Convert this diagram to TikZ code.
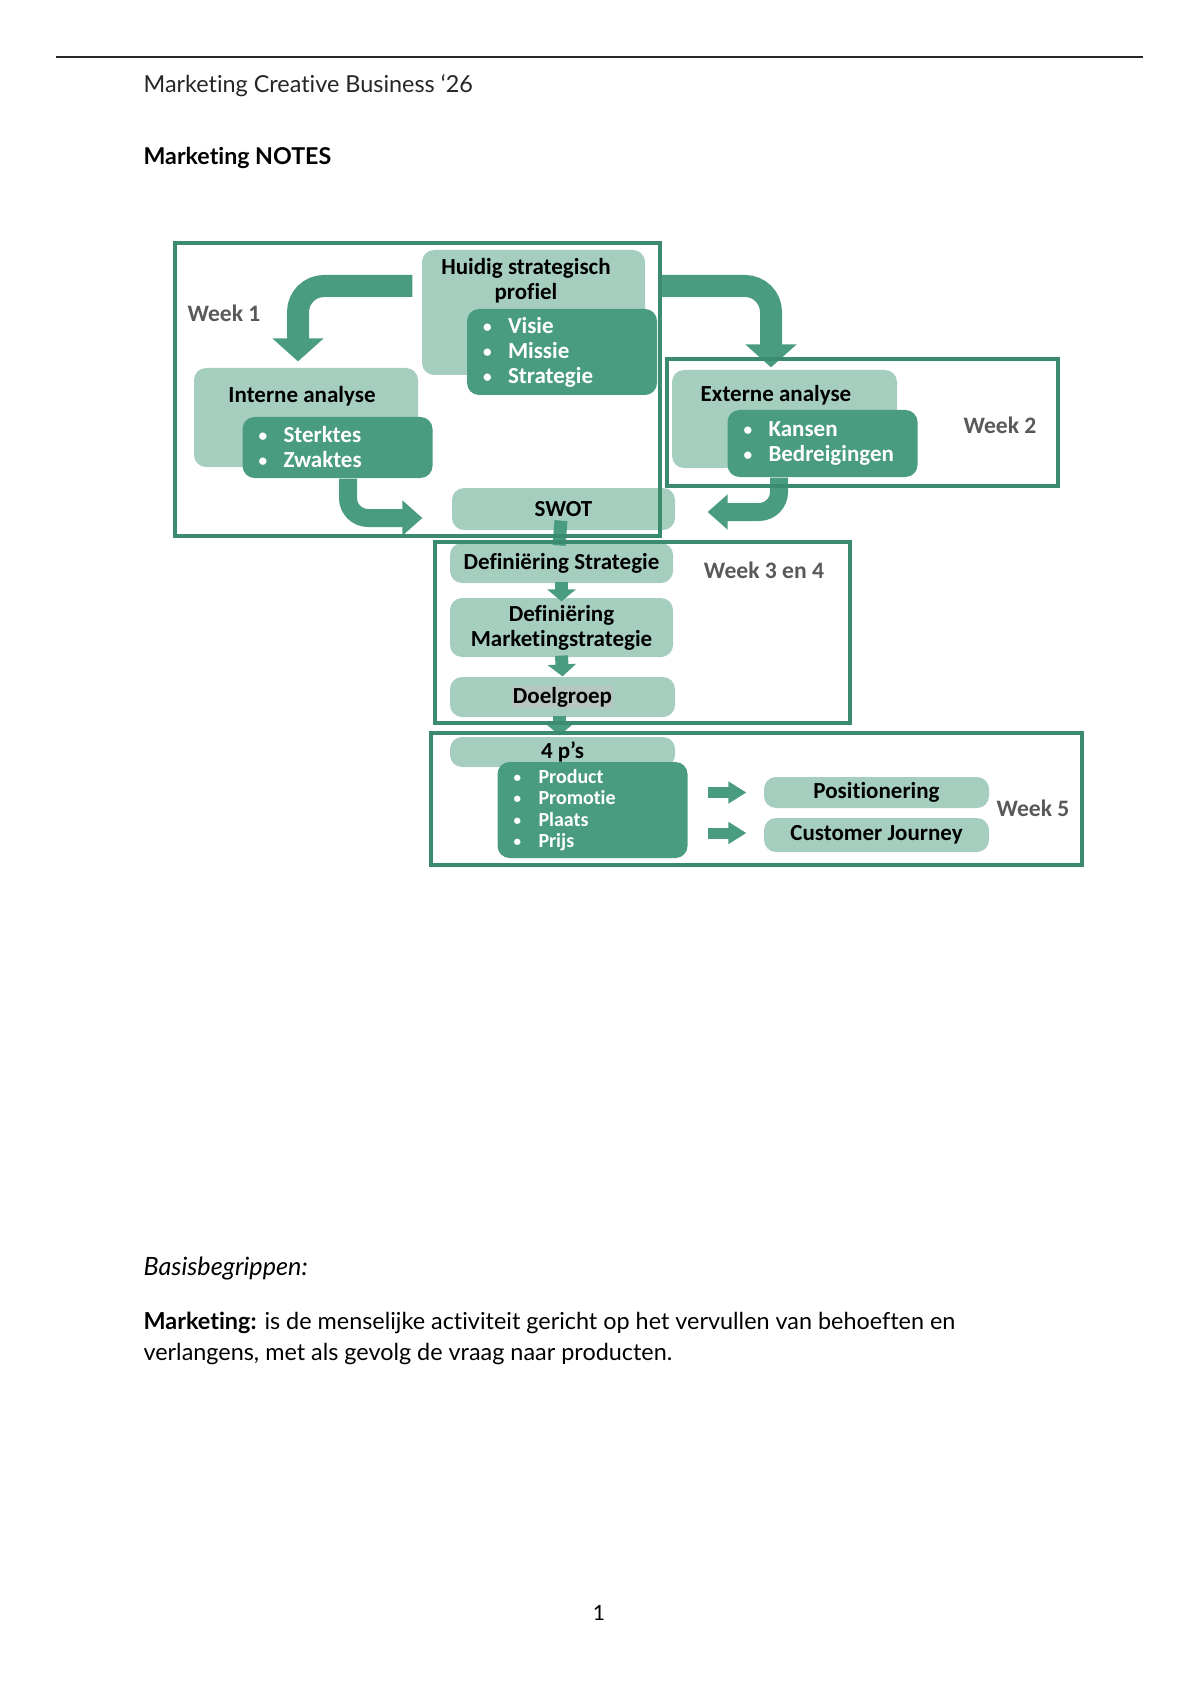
\documentclass[tikz,border=0pt]{standalone}
\usepackage{fontspec}
\setmainfont{Lato}[Ligatures=NoCommon]
\newfontfamily\schemafont{Carlito}[Ligatures=NoCommon]
\usepackage{xcolor}
\definecolor{lichtgroen}{HTML}{A6CEBF}
\definecolor{donkergroen}{HTML}{4A9C80}
\definecolor{randgroen}{HTML}{3B8B6F}
\definecolor{weekgrijs}{HTML}{595959}
\definecolor{markeer}{HTML}{B7C6C0}
\usetikzlibrary{arrows.meta,calc}
\newcommand{\opsom}{\makebox[12.5pt][l]{\raisebox{0.5pt}{\scalebox{0.75}{\textbullet}}}}

\begin{document}
\begin{tikzpicture}[x=0.5pt,y=-0.5pt,semithick]
    \tikzstyle{licht}=[fill=lichtgroen,rounded corners=6pt,inner sep=0pt,text=black,
                       font=\schemafont\bfseries\fontsize{11.5}{12.5}\selectfont,align=center]
    \tikzstyle{donker}=[fill=donkergroen,rounded corners=6pt,inner xsep=8pt,inner ysep=0pt,
                        text=white,text width=79pt,align=left,
                        font=\schemafont\bfseries\fontsize{11.5}{12.5}\selectfont]
    \tikzstyle{titel}=[inner sep=0pt,font=\schemafont\bfseries\fontsize{11.5}{12.5}\selectfont,align=center]
    \tikzstyle{week}=[draw=randgroen,line width=2pt]
    \tikzstyle{weeklabel}=[inner sep=0pt,text=weekgrijs,font=\schemafont\bfseries\fontsize{11.8}{13}\selectfont]
    \tikzstyle{pijl}=[draw=donkergroen,line width=11pt,rounded corners=13pt,
                      -{Triangle[length=11.5pt,width=25pt]}]
    \tikzstyle{pijlklein}=[draw=donkergroen,line width=9pt,rounded corners=10pt,
                           -{Triangle[length=10pt,width=17pt]}]
    \tikzstyle{schakel}=[draw=donkergroen,line width=6.5pt,-{Triangle[length=6pt,width=14pt]}]
    \tikzstyle{blokpijl}=[draw=donkergroen,line width=5.5pt,-{Triangle[length=9pt,width=10.5pt]}]
    \useasboundingbox (0,0) rectangle (1200,1700);

    % kop van de pagina
    \draw[line width=1pt,black!85] (56,57) -- (1143,57);
    \node[anchor=west,inner sep=0pt,font=\fontsize{11.7}{14}\selectfont,text=black!85] (kop) at (143,86) {Marketing Creative Business ‘26};
    \node[anchor=west,inner sep=0pt,font=\bfseries\fontsize{11.6}{14}\selectfont] (notes) at (143,158) {Marketing NOTES};

    % week 1
    \node[licht,minimum width=111.5pt,minimum height=62.5pt] (huidig) at (533.5,312.5) {};
    \node[titel] (huidigtitel) at (526,280.5) {Huidig strategisch\\profiel};
    \node[donker,minimum height=43pt] (visie) at (562,352) {\opsom Visie\\\opsom Missie\\\opsom Strategie};
    \node[licht,minimum width=112pt,minimum height=49.5pt] (intern) at (306,417.5) {};
    \node[titel] (interntitel) at (302,396) {Interne analyse};
    \node[donker,minimum height=30.5pt] (sterk) at (337.5,447.5) {\opsom Sterktes\\\opsom Zwaktes};
    \node[licht,minimum width=111.5pt,minimum height=21pt] (swot) at (563.5,509) {SWOT};

    % week 2
    \node[licht,minimum width=112.5pt,minimum height=49pt] (extern) at (784.5,419) {};
    \node[titel] (externtitel) at (776,395) {Externe analyse};
    \node[donker,minimum height=33.5pt] (kansen) at (822.5,443.5) {\opsom Kansen\\\opsom Bedreigingen};

    % week 3 en 4
    \node[licht,minimum width=111.5pt,minimum height=20pt] (defstrat) at (561.5,563) {Definiëring Strategie};
    \node[licht,minimum width=111.5pt,minimum height=29.5pt] (defmkt) at (561.5,627.5) {Definiëring\\Marketingstrategie};
    \node[licht,minimum width=112.5pt,minimum height=20pt] (doelgroep) at (562.5,697) {{\setlength\fboxsep{0.5pt}\colorbox{markeer}{Doelgroep}}};

    % week 5
    \node[licht,minimum width=112.5pt,minimum height=15pt] (vierp) at (562.5,752) {4 p’s};
    \node[donker,minimum height=48pt,font=\schemafont\bfseries\fontsize{10}{10.7}\selectfont] (product) at (592.5,810)
        {\opsom Product\\\opsom Promotie\\\opsom Plaats\\\opsom Prijs};
    \node[licht,minimum width=112.5pt,minimum height=15.5pt] (positie) at (876.5,792.5) {Positionering};
    \node[licht,minimum width=112.5pt,minimum height=17pt] (journey) at (876.5,835) {Customer Journey};

    % pijlen
    \draw[pijl] ($(huidig.west)+(-9,-26.5)$) -| ($(intern.north)+(-8,-6)$);
    \draw[pijl] ($(huidig.east)+(15,-26.5)$) -| ($(extern.north)+(-13.5,-2)$);
    \draw[pijlklein] ($(sterk.south)+(10.5,0)$) |- ($(swot.west)+(-29,9)$);
    \draw[pijlklein] ($(kansen.south)+(-43.5,0)$) |- ($(swot.east)+(32,3)$);
    \draw[draw=donkergroen,line width=6.5pt] ($(swot.south)+(-2.5,-10)$) -- ($(defstrat.north)+(-2.5,3)$);
    \draw[schakel] ($(defstrat.south)+(0,-2)$) -- ($(defmkt.north)+(0,4)$);
    \draw[schakel] ($(defmkt.south)+(0,-2)$) -- (doelgroep.north);
    \draw[schakel] ($(doelgroep.south)+(-3,-2)$) -- ($(vierp.north)+(-3,-1)$);
    \draw[blokpijl] ($(product.east |- positie.west)+(20,0)$) -- ($(positie.west)+(-17,0)$);
    \draw[blokpijl] ($(product.east |- journey.west)+(20,-2)$) -- ($(journey.west)+(-17,-2)$);

    % weekkaders
    \draw[week] (175,243) rectangle (660,536);
    \draw[week] (667,359) rectangle (1058,486);
    \draw[week] (435,542) rectangle (850,723);
    \draw[week] (431,733) rectangle (1082,865);
    \node[weeklabel] (week1) at (224,313) {Week 1};
    \node[weeklabel] (week2) at (1000,425) {Week 2};
    \node[weeklabel] (week34) at (764,570) {Week 3 en 4};
    \node[weeklabel] (week5) at (1033,808) {Week 5};

    % tekst onder het schema
    \node[anchor=west,inner sep=0pt,font=\itshape\fontsize{12.6}{14}\selectfont] (basis) at (143,1268) {Basisbegrippen:};
    \node[anchor=north west,inner sep=0pt,align=left,font=\fontsize{11.7}{15.5}\selectfont] (definitie) at (143,1311)
        {\textbf{Marketing:} is de menselijke activiteit gericht op het vervullen van behoeften en\\
         verlangens, met als gevolg de vraag naar producten.};
    \node[inner sep=0pt,font=\fontsize{10.5}{12}\selectfont] (pagina) at (599,1613) {1};
\end{tikzpicture}
\end{document}
